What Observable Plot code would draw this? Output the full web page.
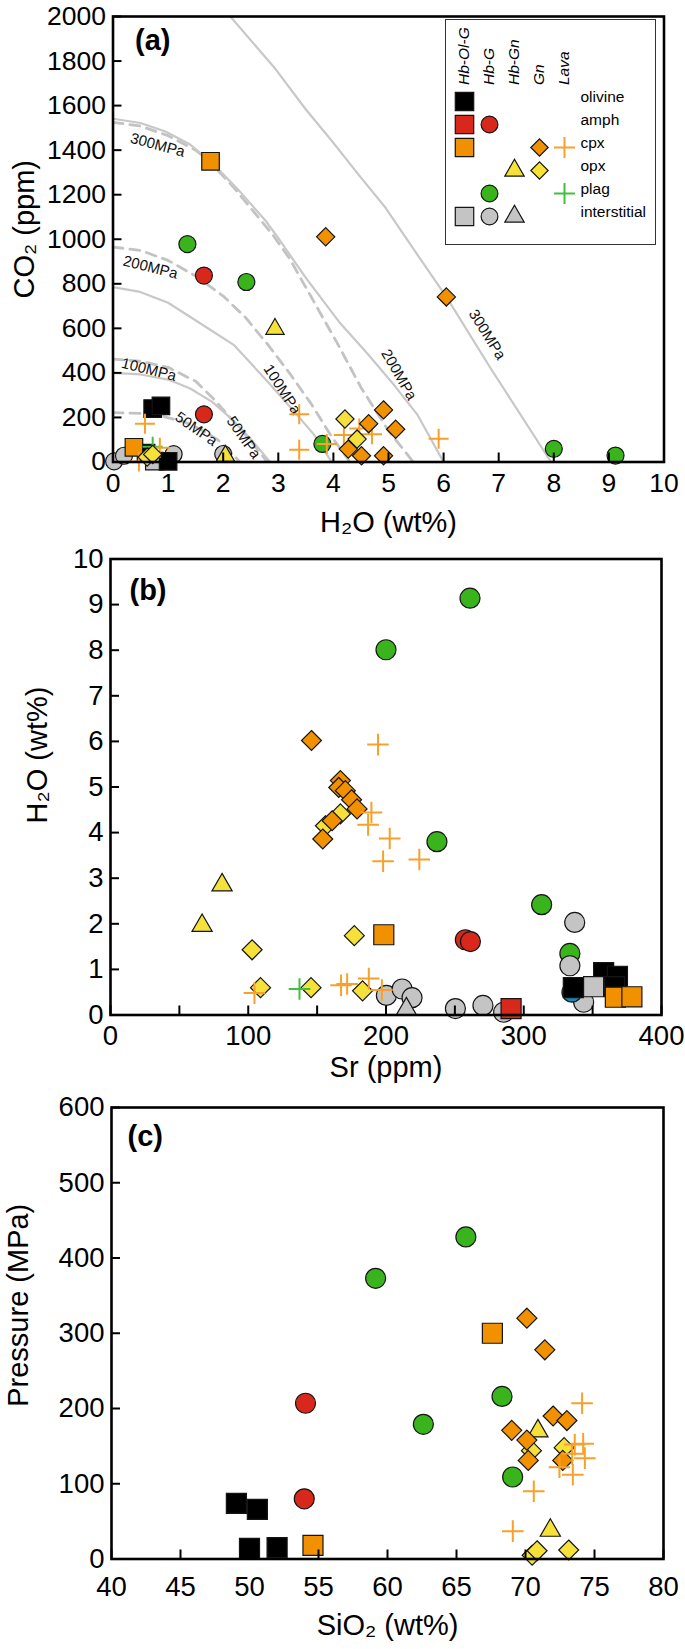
<!DOCTYPE html>
<html><head><meta charset="utf-8">
<script src="https://cdn.jsdelivr.net/npm/d3@7"></script>
<script src="https://cdn.jsdelivr.net/npm/@observablehq/plot@0.6"></script>
<style>
body{margin:0;background:#fff;}
#wrap{position:relative;width:685px;height:1649px;}
#wrap > svg{position:absolute;left:0;}
</style></head><body><div id="wrap"></div>
<script>
// ---------- categories ----------
const types = ["Hb-Ol-G","Hb-G","Hb-Gn","Gn","Lava"];
const typeSymbols = ["square","circle","triangle","diamond2","plus"];
const phases = ["olivine","amph","cpx","opx","plag","interstitial"];

// ---------- panel (a) isobars [H2O wt%, CO2 ppm] ----------
const isoSolid300 = [[2.13,2000],[2.95,1764],[3.49,1586],[3.98,1439],[4.46,1289],[4.95,1140],[5.31,1008],[6.05,741],[6.85,422],[7.95,0]];
const isoSolid200 = [[0,1541],[0.5,1522],[0.95,1484],[1.4,1425],[1.77,1350],[2.3,1215],[2.77,1083],[3.0,1005],[3.49,830],[4.1,630],[4.64,480],[5.07,355],[5.52,214],[6.0,0]];
const isoSolid100 = [[0,785],[0.47,765],[1.0,715],[1.68,607],[2.19,526],[2.8,363],[3.28,229],[3.64,125],[3.97,0]];
const isoSolid50 = [[0,400],[0.5,393],[1.0,370],[1.4,330],[1.8,270],[2.1,205],[2.4,130],[2.65,60],[2.85,0]];
const isoDash300 = [[0,1525],[0.5,1508],[1.0,1465],[1.5,1400],[1.77,1345],[2.2,1230],[2.6,1110],[2.9,1020],[3.2,915],[3.6,740],[4.1,520],[4.5,335],[5.0,140],[5.45,0]];
const isoDash200 = [[0,965],[0.5,950],[1.0,905],[1.5,835],[2.0,745],[2.4,650],[2.8,530],[3.2,400],[3.6,260],[3.95,120],[4.3,0]];
const isoDash100 = [[0,462],[0.5,452],[1.0,425],[1.5,362],[1.8,290],[2.16,190],[2.5,95],[2.8,0]];
const isoDash50 = [[0,222],[0.5,218],[0.9,205],[1.3,180],[1.6,145],[1.9,100],[2.1,55],[2.3,0]];
// [text, H2O, CO2, angle]
const isoLabels = [["300MPa",0.81,1423,15],["200MPa",0.68,874,14],["100MPa",0.65,415,14],["50MPa",1.51,148,35],["50MPa",2.37,110,55],["100MPa",3.07,326,57],["200MPa",5.19,392,60],["300MPa",6.79,572,58]];

// ---------- points: [x, y, sample type, phase] ----------
const pointsA = [
  [0.75,4,"Hb-Ol-G","interstitial"],
  [0.02,3,"Hb-G","interstitial"],[0.2,28,"Hb-G","interstitial"],[1.1,35,"Hb-G","interstitial"],[2.0,36,"Hb-G","interstitial"],
  [0.72,240,"Hb-Ol-G","olivine"],[0.87,252,"Hb-Ol-G","olivine"],[0.6,40,"Hb-Ol-G","olivine"],[1.0,3,"Hb-Ol-G","olivine"],
  [0.38,66,"Hb-Ol-G","cpx"],[1.77,1350,"Hb-Ol-G","cpx"],
  [1.35,978,"Hb-G","plag"],[2.42,808,"Hb-G","plag"],[3.80,81,"Hb-G","plag"],[8.0,59,"Hb-G","plag"],[9.12,29,"Hb-G","plag"],
  [1.65,837,"Hb-G","amph"],[1.65,214,"Hb-G","amph"],
  [2.94,597,"Hb-Gn","opx"],[2.04,27,"Hb-Gn","opx"],
  [0.72,68,"Lava","plag"],
  [0.58,172,"Lava","cpx"],[0.85,64,"Lava","cpx"],[0.47,2,"Lava","cpx"],[3.38,214,"Lava","cpx"],[3.38,55,"Lava","cpx"],[3.88,81,"Lava","cpx"],[4.19,121,"Lava","cpx"],[4.47,150,"Lava","cpx"],[4.7,125,"Lava","cpx"],[5.91,104,"Lava","cpx"],
  [0.62,22,"Gn","opx"],[0.72,34,"Gn","opx"],[4.21,193,"Gn","opx"],[4.43,103,"Gn","opx"],
  [3.86,1011,"Gn","cpx"],[6.05,741,"Gn","cpx"],[4.91,234,"Gn","cpx"],[4.64,172,"Gn","cpx"],[5.13,147,"Gn","cpx"],[4.27,58,"Gn","cpx"],[4.51,28,"Gn","cpx"],[4.91,28,"Gn","cpx"]
];
const pointsB = [
  [200.3,0.43,"Hb-G","interstitial"],[211.7,0.57,"Hb-G","interstitial"],[218.9,0.38,"Hb-G","interstitial"],[250.4,0.14,"Hb-G","interstitial"],[270.4,0.21,"Hb-G","interstitial"],[285.4,0.06,"Hb-G","interstitial"],[343.5,0.28,"Hb-G","interstitial"],
  [214.8,0.13,"Hb-Gn","interstitial"],
  [335,0.5,"Hb-G","other"],
  [261,9.14,"Hb-G","plag"],[200,8.01,"Hb-G","plag"],[237,3.80,"Hb-G","plag"],[313,2.42,"Hb-G","plag"],[333.5,1.35,"Hb-G","plag"],
  [337,2.03,"Hb-G","interstitial"],[333.5,1.08,"Hb-G","interstitial"],
  [257.6,1.65,"Hb-G","amph"],[261.3,1.61,"Hb-G","amph"],
  [336,0.6,"Hb-Ol-G","olivine"],[358,0.93,"Hb-Ol-G","olivine"],[368,0.85,"Hb-Ol-G","olivine"],[366,0.62,"Hb-Ol-G","olivine"],
  [350.7,0.62,"Hb-Ol-G","interstitial"],
  [198.4,1.76,"Hb-Ol-G","cpx"],[366.5,0.39,"Hb-Ol-G","cpx"],[378.5,0.4,"Hb-Ol-G","cpx"],
  [290.8,0.14,"Hb-Ol-G","amph"],
  [81,2.85,"Hb-Gn","opx"],[66.5,1.96,"Hb-Gn","opx"],
  [102.8,1.43,"Gn","opx"],[177,1.74,"Gn","opx"],[108.9,0.6,"Gn","opx"],[145.6,0.6,"Gn","opx"],[183,0.53,"Gn","opx"],[166.9,4.41,"Gn","opx"],[156,4.15,"Gn","opx"],
  [145.9,6.02,"Gn","cpx"],[166.9,5.14,"Gn","cpx"],[165.7,4.99,"Gn","cpx"],[170.5,4.92,"Gn","cpx"],[175,4.72,"Gn","cpx"],[179,4.52,"Gn","cpx"],[160.9,4.26,"Gn","cpx"],[154.1,3.86,"Gn","cpx"],
  [194.2,5.93,"Lava","cpx"],[189.4,4.44,"Lava","cpx"],[187,4.17,"Lava","cpx"],[202.7,3.87,"Lava","cpx"],[197.9,3.37,"Lava","cpx"],[224.2,3.41,"Lava","cpx"],[104.5,0.48,"Lava","cpx"],[167.4,0.65,"Lava","cpx"],[171.8,0.68,"Lava","cpx"],[187.5,0.8,"Lava","cpx"],[197,0.55,"Lava","cpx"],
  [137.2,0.57,"Lava","plag"]
];
const pointsC = [
  [49.05,74,"Hb-Ol-G","olivine"],[50.57,66,"Hb-Ol-G","olivine"],[50.0,14,"Hb-Ol-G","olivine"],[52.0,15,"Hb-Ol-G","olivine"],
  [54.6,18,"Hb-Ol-G","cpx"],[67.6,300,"Hb-Ol-G","cpx"],
  [65.68,428,"Hb-G","plag"],[59.14,373,"Hb-G","plag"],[62.6,179,"Hb-G","plag"],[68.3,216,"Hb-G","plag"],[69.07,109,"Hb-G","plag"],
  [54.06,207,"Hb-G","amph"],[53.97,80,"Hb-G","amph"],
  [70.9,170,"Hb-Gn","opx"],[71.8,38,"Hb-Gn","opx"],
  [70.43,144,"Gn","opx"],[72.8,148,"Gn","opx"],[70.48,5,"Gn","opx"],[70.84,11,"Gn","opx"],[73.13,12,"Gn","opx"],
  [70.1,320,"Gn","cpx"],[71.4,278,"Gn","cpx"],[72.0,190,"Gn","cpx"],[73.0,184,"Gn","cpx"],[69.0,171,"Gn","cpx"],[70.1,158,"Gn","cpx"],[70.2,131,"Gn","cpx"],[72.7,131,"Gn","cpx"],
  [74.1,207,"Lava","cpx"],[73.57,152,"Lava","cpx"],[74.18,153,"Lava","cpx"],[74.3,134,"Lava","cpx"],[73.38,140,"Lava","cpx"],[72.46,122,"Lava","cpx"],[73.43,112,"Lava","cpx"],[70.6,90,"Lava","cpx"],[69.08,37,"Lava","cpx"]
];
const legendEntries = [["Hb-Ol-G","olivine"],["Hb-Ol-G","amph"],["Hb-G","amph"],["Hb-Ol-G","cpx"],["Gn","cpx"],["Lava","cpx"],["Hb-Gn","opx"],["Gn","opx"],["Hb-G","plag"],["Lava","plag"],["Hb-Ol-G","interstitial"],["Hb-G","interstitial"],["Hb-Gn","interstitial"]];

// ---------- ticks ----------
const ticksAx = [0,1,2,3,4,5,6,7,8,9,10];
const ticksAy = [0,200,400,600,800,1000,1200,1400,1600,1800,2000];
const ticksBx = [0,50,100,150,200,250,300,350,400];
const labelsBx = [0,100,200,300,400];
const ticksBy = [0,1,2,3,4,5,6,7,8,9,10];
const ticksCx = [40,45,50,55,60,65,70,75,80];
const ticksCy = [0,100,200,300,400,500,600];

// ---------- styles ----------
const phaseFill = {olivine:"#000000", amph:"#d8281c", cpx:"#f29100", opx:"#f5e13a", plag:"#3ab41c", interstitial:"#c4c4c4", other:"#1d86b4"};
const plusColor = {cpx:"#f7a12a", plag:"#3fc23b"};
const sizesA = {"Hb-Ol-G":9.9,"Hb-G":8.5,"Hb-Gn":6.8,"Gn":8.2,"Lava":6.5};
const sizesBC = {"Hb-Ol-G":11.3,"Hb-G":10,"Hb-Gn":7.5,"Gn":9,"Lava":7};
const sizesLeg = {"Hb-Ol-G":10.4,"Hb-G":8.4,"Hb-Gn":7.2,"Gn":7.8,"Lava":6.8};
const FONT = "'Liberation Sans', Arial, Helvetica, sans-serif";
const TITLEFONT = 29;

function dots(rows, sizes) {
  return Plot.dot(rows, {
    x: d => d[0], y: d => d[1], symbol: d => d[2], r: d => sizes[d[2]],
    fill: d => d[2] === "Lava" ? "none" : phaseFill[d[3]],
    stroke: d => d[2] === "Lava" ? plusColor[d[3]] : "#151515",
    strokeWidth: d => d[2] === "Lava" ? 2 : 1.2,
    sort: null
  });
}
const commonScales = {
  symbol: {domain: types, range: typeSymbols},
  color: {type: "identity"},
  r: {type: "linear", domain: [0, 20], range: [0, 20]}
};

function panel(o) {
  const fw = o.width - o.ml - o.mr, fh = o.height - o.mt - o.mb;
  const marks = [
    ...(o.extra || []),
    dots(o.points, o.sizes),
    Plot.frame({stroke: "black", strokeWidth: 2.6}),
    Plot.tickX(o.xTicks, {x: d => d, insetTop: fh - 9, stroke: "black", strokeWidth: 2}),
    Plot.tickY(o.yTicks, {y: d => d, insetRight: fw - 9, stroke: "black", strokeWidth: 2}),
    Plot.axisX(o.xLabels, {tickSize: 0, tickPadding: o.xPad, fontSize: o.tickFont, label: null, tickFormat: d => `${d}`}),
    Plot.axisY(o.yLabels, {tickSize: 0, tickPadding: 7, fontSize: o.tickFont, label: null, tickFormat: d => `${d}`}),
    Plot.text([o.xTitle], {text: d => d, frameAnchor: "bottom", dy: o.xTitleDy, fontSize: TITLEFONT, textAnchor: "middle", lineAnchor: "middle"}),
    Plot.text([o.yTitle], {text: d => d, frameAnchor: "left", dx: o.yTitleDx, dy: o.yTitleDy, rotate: -90, fontSize: TITLEFONT, textAnchor: "middle", lineAnchor: "middle"}),
    Plot.text([o.tag], {text: d => d, frameAnchor: "top-left", dx: o.tagDx, dy: o.tagDy, fontSize: 29, fontWeight: "bold", textAnchor: "start", lineAnchor: "top"})
  ];
  const svg = Plot.plot({
    width: o.width, height: o.height,
    marginLeft: o.ml, marginRight: o.mr, marginTop: o.mt, marginBottom: o.mb,
    x: {domain: o.xDomain, label: null},
    y: {domain: o.yDomain, label: null},
    ...commonScales,
    style: {fontFamily: FONT, color: "#000", background: "transparent"},
    marks
  });
  svg.style.top = o.top + "px";
  return svg;
}

const curveRows = (arr, name) => arr.map(([x, y]) => ({x, y, name}));
const solidRows = [].concat(curveRows(isoSolid300,"s300"), curveRows(isoSolid200,"s200"), curveRows(isoSolid100,"s100"), curveRows(isoSolid50,"s50"));
const dashRows = [].concat(curveRows(isoDash300,"d300"), curveRows(isoDash200,"d200"), curveRows(isoDash100,"d100"), curveRows(isoDash50,"d50"));

const wrap = document.getElementById("wrap");

wrap.appendChild(panel({
  top: 0, width: 685, height: 540, ml: 112.5, mr: 21.5, mt: 16, mb: 78.5, tickFont: 26.5,
  xDomain: [0, 10], yDomain: [0, 2000],
  xTicks: ticksAx, xLabels: ticksAx, yTicks: ticksAy, yLabels: ticksAy, xPad: 11,
  points: pointsA, sizes: sizesA,
  xTitle: "H₂O (wt%)", xTitleDy: 61, yTitle: "CO₂ (ppm)", yTitleDx: -88, yTitleDy: -10,
  tag: "(a)", tagDx: 22, tagDy: 13,
  extra: [
    Plot.line(dashRows, {x: "x", y: "y", z: "name", stroke: "#c3c3c3", strokeWidth: 2.8, strokeDasharray: "10,7", clip: true}),
    Plot.line(solidRows, {x: "x", y: "y", z: "name", stroke: "#c8c8c8", strokeWidth: 2.2, clip: true}),
    Plot.text(isoLabels, {x: d => d[1], y: d => d[2], text: d => d[0], rotate: d => d[3], fontSize: 15, fill: "#111", textAnchor: "middle", lineAnchor: "middle"})
  ]
}));

wrap.appendChild(panel({
  top: 540, width: 685, height: 560, ml: 110, mr: 24, mt: 18.5, mb: 85.5, tickFont: 27.5,
  xDomain: [0, 400], yDomain: [0, 10],
  xTicks: ticksBx, xLabels: labelsBx, yTicks: ticksBy, yLabels: ticksBy, xPad: 10,
  points: pointsB, sizes: sizesBC,
  xTitle: "Sr (ppm)", xTitleDy: 53, yTitle: "H₂O (wt%)", yTitleDx: -73, yTitleDy: -32,
  tag: "(b)", tagDx: 19, tagDy: 20
}));

wrap.appendChild(panel({
  top: 1085, width: 685, height: 564, ml: 111, mr: 22, mt: 22, mb: 90.5, tickFont: 27.5,
  xDomain: [40, 80], yDomain: [0, 600],
  xTicks: ticksCx, xLabels: ticksCx, yTicks: ticksCy, yLabels: ticksCy, xPad: 17,
  points: pointsC, sizes: sizesBC,
  xTitle: "SiO₂ (wt%)", xTitleDy: 67, yTitle: "Pressure (MPa)", yTitleDx: -93, yTitleDy: -28,
  tag: "(c)", tagDx: 16, tagDy: 18
}));

// ---------- legend (inside panel a) ----------
const legend = Plot.plot({
  width: 209, height: 224, marginLeft: 17, marginRight: 90, marginTop: 80, marginBottom: 26.5,
  x: {type: "point", domain: types, padding: 0, axis: null},
  y: {type: "point", domain: phases, padding: 0, axis: null},
  ...commonScales,
  style: {fontFamily: FONT, color: "#000", background: "#fff"},
  marks: [
    Plot.text(types, {x: d => d, text: d => d, frameAnchor: "top", dy: -15.5, rotate: -90, textAnchor: "start", lineAnchor: "middle", fontStyle: "italic", fontSize: 15.5}),
    Plot.text(phases, {y: d => d, text: d => d, frameAnchor: "right", dx: 15, dy: -4, textAnchor: "start", fontSize: 15.5}),
    Plot.dot(legendEntries, {
      x: d => d[0], y: d => d[1], symbol: d => d[0], r: d => sizesLeg[d[0]],
      fill: d => d[0] === "Lava" ? "none" : phaseFill[d[1]],
      stroke: d => d[0] === "Lava" ? plusColor[d[1]] : "#151515",
      strokeWidth: d => d[0] === "Lava" ? 2 : 1.2, sort: null
    })
  ]
});
legend.style.left = "445px";
legend.style.top = "19px";
legend.style.border = "1.3px solid #333";
wrap.appendChild(legend);
</script>
</body></html>
